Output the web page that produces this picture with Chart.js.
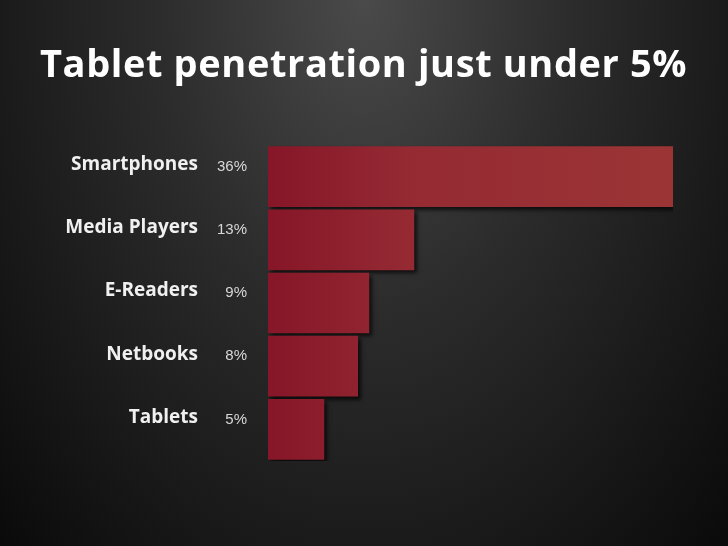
<!DOCTYPE html>
<html>
<head>
<meta charset="utf-8">
<script src="https://cdn.jsdelivr.net/npm/chart.js@4"></script>
<style>
  html, body { margin:0; padding:0; }
  body { width:728px; height:546px; overflow:hidden; position:relative;
    background: radial-gradient(ellipse at 50% 0%, #4a4a4a 0%, #2c2c2c 40%, #0a0a0a 100%); }
  h1 { position:absolute; left:40px; top:36px; margin:0; font-family:"Open Sans", sans-serif;
    font-weight:700; font-size:38px; color:#fff; letter-spacing:0.6px; }
  #wrap { position:absolute; left:0; top:0; width:728px; height:546px; }
</style>
</head>
<body>
<div id="wrap"><canvas id="chart"></canvas></div>
<h1>Tablet penetration just under 5%</h1>
<script>
// Device ownership
const categories = ["Smartphones", "Media Players", "E-Readers", "Netbooks", "Tablets"];
const shares = [36, 13, 9, 8, 5];
const shareLabels = ["36%", "13%", "9%", "8%", "5%"];

const pctLabels = {
  id: "pctLabels",
  afterDatasetsDraw(chart){
    const { ctx } = chart;
    const meta = chart.getDatasetMeta(0);
    ctx.save();
    ctx.font = "15px 'Liberation Sans', Arial, sans-serif";
    ctx.fillStyle = "#d8d8d8";
    ctx.textAlign = "right";
    ctx.textBaseline = "middle";
    meta.data.forEach((bar, i) => ctx.fillText(shareLabels[i], 247, bar.y - 10));
    ctx.restore();
  }
};

const shadow = {
  id: "shadow",
  beforeDatasetsDraw(chart){ const c = chart.ctx; c.save(); c.shadowColor = "rgba(0,0,0,0.7)"; c.shadowOffsetX = 3; c.shadowOffsetY = 3; c.shadowBlur = 4; },
  afterDatasetsDraw(chart){ chart.ctx.restore(); }
};

new Chart(document.getElementById("chart"), {
  type: "bar",
  data: { labels: categories, datasets: [{
    data: shares,
    backgroundColor: (context) => {
      const { ctx, chartArea } = context.chart;
      if(!chartArea) return "#8f2530";
      const g = ctx.createLinearGradient(chartArea.left, 0, chartArea.right, 0);
      g.addColorStop(0, "#861628");
      g.addColorStop(0.35, "#952a33");
      g.addColorStop(1, "#9b3535");
      return g;
    },
    borderWidth: 0,
    categoryPercentage: 0.96,
    barPercentage: 1
  }]},
  options: {
    indexAxis: "y",
    responsive: true,
    maintainAspectRatio: false,
    animation: false,
    layout: { padding: { top: 145, bottom: 85, right: 55, left: 0 } },
    plugins: { legend: { display: false }, tooltip: { enabled: false } },
    scales: {
      x: { display: false, min: 0, max: 36 },
      y: {
        grid: { display: false }, border: { display: false },
        afterFit(scale){ scale.width = 268; },
        ticks: { color: "#f0f0f0", padding: 62, labelOffset: -12,
          font: { family: "'Open Sans', sans-serif", weight: "bold", size: 19 } }
      }
    }
  },
  plugins: [shadow, pctLabels]
});
</script>
</body>
</html>
